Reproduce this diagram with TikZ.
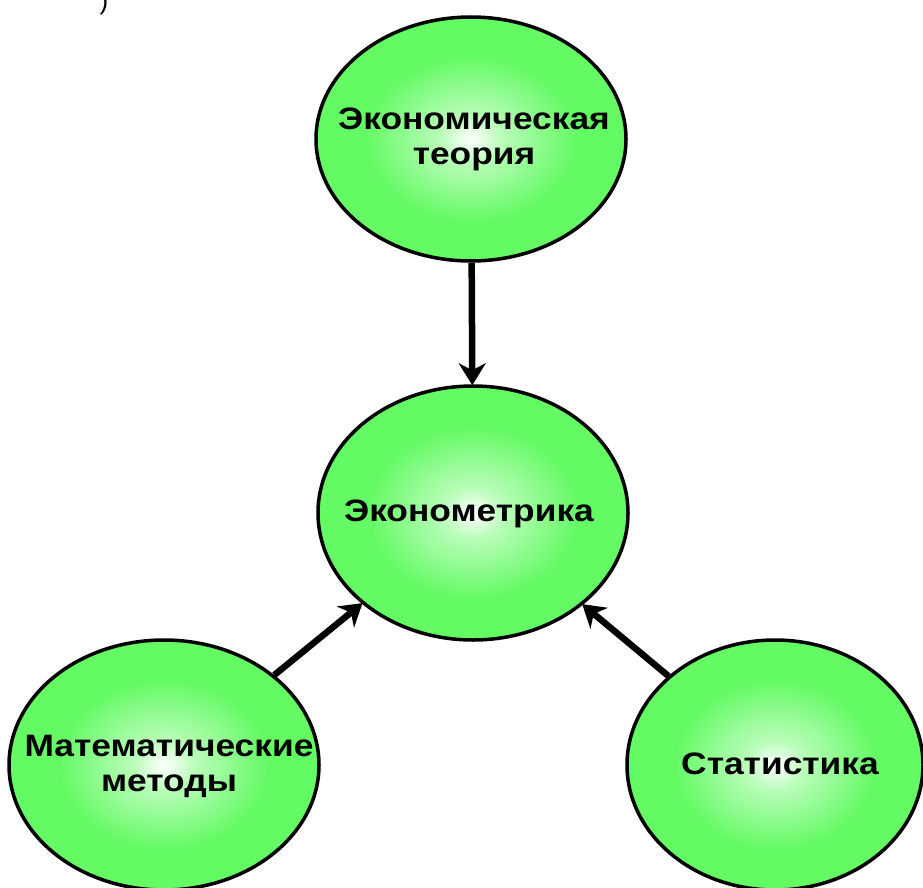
\documentclass[tikz,border=0pt]{standalone}
\usepackage{fontspec}
\setmainfont{Liberation Sans}
\newfontfamily\ballfont[FakeStretch=1.14]{Liberation Sans}
\usetikzlibrary{shapes.geometric,arrows.meta}
\definecolor{ballg}{RGB}{100,250,100}
\pgfdeclareradialshading{ballshade}{\pgfpoint{0bp}{0bp}}{color(0bp)=(white); color(5bp)=(ballg!45!white); color(17bp)=(ballg); color(25bp)=(ballg); color(50bp)=(ballg)}
\begin{document}
\begin{tikzpicture}[x=1pt,y=-1pt,
  ball/.style={ellipse, draw=black, line width=3.5pt, shading=ballshade, inner sep=0pt},
  balltext/.style={font=\ballfont\fontsize{31}{35}\selectfont\bfseries, align=center, inner sep=0pt},
  link/.style={line width=6.5pt, -{Stealth[length=22pt,width=27pt,inset=7pt]}, shorten >=-1pt}]
\useasboundingbox (0,0) rectangle (923,888);
\node[font=\fontsize{26}{30}\selectfont] (mark) at (104,3) {)};
\node[ball, minimum width=310pt, minimum height=244pt] (top) at (471,139) {};
\node[ball, minimum width=310pt, minimum height=254pt] (mid) at (473,513) {};
\node[ball, minimum width=310pt, minimum height=250pt] (bl) at (164,765) {};
\node[ball, minimum width=296pt, minimum height=250pt] (br) at (775,765) {};
\node[balltext] (topT) at (474,139) {Экономическая\\теория};
\node[balltext] (midT) at (469,514) {Эконометрика};
\node[balltext] (blT) at (169,766) {Математические\\методы};
\node[balltext] (brT) at (780,764) {Статистика};
\draw[link] (top) -- (mid);
\draw[link] (bl) -- (mid);
\draw[link] (br) -- (mid);
\end{tikzpicture}
\end{document}
